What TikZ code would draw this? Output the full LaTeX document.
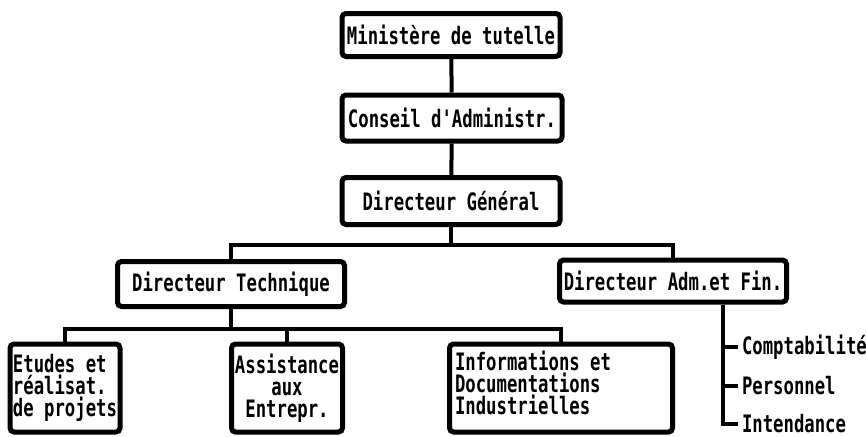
\documentclass[tikz,border=0pt]{standalone}
\usepackage{fontspec}
\newfontfamily\orgfont[FakeStretch=0.72]{DejaVu Sans Mono}
\usetikzlibrary{positioning, calc}
\tikzset{
  every picture/.style={line width=2pt},
  orgbox/.style={draw, line width=2.5pt, rounded corners=2pt, align=#1, inner sep=1pt,
    font=\orgfont\bfseries\fontsize{12}{11}\selectfont},
  orgbox/.default=center,
  unit/.style={font=\orgfont\bfseries\fontsize{12}{11}\selectfont, inner sep=1pt},
  link/.style={line width=2pt},
}

\begin{document}
\begin{tikzpicture}[x=0.5pt, y=-0.5pt]
  \useasboundingbox (0,0) rectangle (866,436);
  % top of the chart
  \node[orgbox, minimum width=109pt, minimum height=21.5pt] (mini) at (451,35) {Ministère de tutelle};
  \node[orgbox, minimum width=110pt, minimum height=23pt] (conseil) at (452,118) {Conseil d'Administr.};
  \node[orgbox, minimum width=109pt, minimum height=23.5pt] (dg) at (451,201) {Directeur Général};
  \node[orgbox, minimum width=113.5pt, minimum height=22.5pt] (dt) at (231,284) {Directeur Technique};
  \node[orgbox, minimum width=113.5pt, minimum height=21pt] (daf) at (673,281) {Directeur Adm.et Fin.};
  % services of the technical director
  \node[orgbox=left, minimum width=55pt, minimum height=44pt] (etudes) at (65,388) {Etudes et\\réalisat.\\de projets};
  \node[orgbox, minimum width=55.5pt, minimum height=44pt] (assist) at (287,388) {Assistance\\aux\\Entrepr.};
  \node[orgbox, minimum width=111.5pt, minimum height=44pt] (info) at (561,388) {};
  \node[unit, anchor=north west, align=left] (infotext)
    at ($(info.north west)+(4,5)$) {Informations et\\Documentations\\Industrielles};
  % services of the administrative director
  \node[unit, anchor=west] (compta) at (738,347) {Comptabilité};
  \node[unit, anchor=west] (perso) at (738,386) {Personnel};
  \node[unit, anchor=west] (intend) at (738,424) {Intendance};

  \draw[link] (mini) -- (conseil);
  \draw[link] (conseil) -- (dg);
  \draw[link] (dg.south) -- ++(0,18) coordinate (j1);
  \draw[link] (dt.north) |- (j1) -| (daf.north);
  \draw[link] (dt.south) -- ++(0,20) coordinate (j2);
  \draw[link] (etudes.north) |- (j2) -| (info.north);
  \draw[link] (assist.north) -- (assist.north |- j2);
  \coordinate (k) at ($(daf.south)+(50,0)$);
  \draw[link] (k) |- (compta.west);
  \draw[link] (k) |- (perso.west);
  \draw[link] (k) |- (intend.west);
\end{tikzpicture}
\end{document}
